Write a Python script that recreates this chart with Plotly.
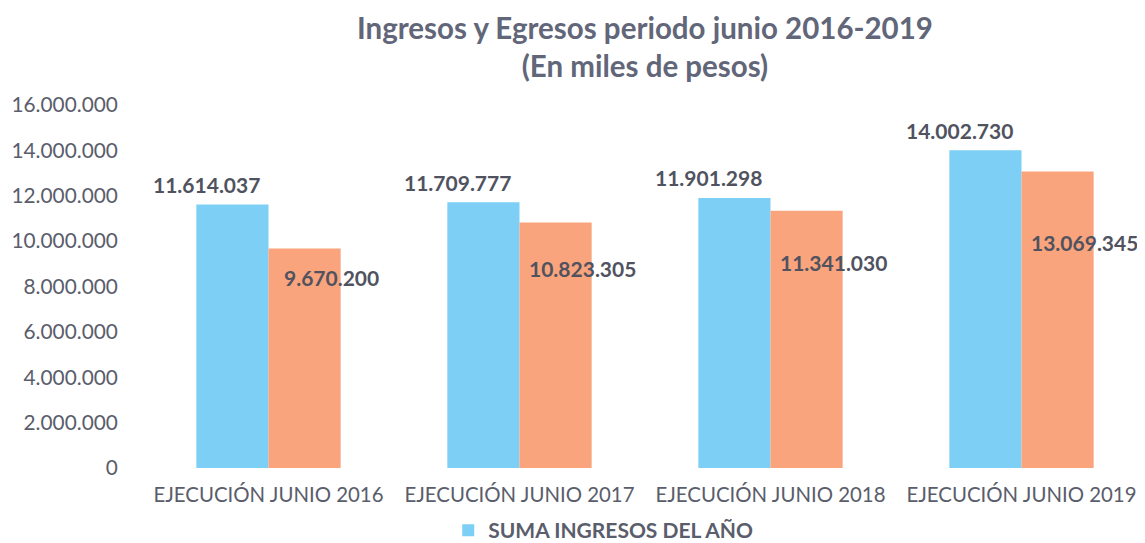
import plotly.graph_objects as go

categories = ["EJECUCIÓN JUNIO 2016", "EJECUCIÓN JUNIO 2017", "EJECUCIÓN JUNIO 2018", "EJECUCIÓN JUNIO 2019"]
ingresos = [11614037, 11709777, 11901298, 14002730]
egresos = [9670200, 10823305, 11341030, 13069345]
tick_vals = [0, 2000000, 4000000, 6000000, 8000000, 10000000, 12000000, 14000000, 16000000]
tick_text = ["0", "2.000.000", "4.000.000", "6.000.000", "8.000.000", "10.000.000", "12.000.000", "14.000.000", "16.000.000"]

# label pixel offsets (style only)
egresos_label_yshift = [-29, -46, -52, -71]

BLUE = "#7dcff5"
ORANGE = "#f9a47c"
TXT = "#5a5d6b"
LBL = "#50535f"
FONT = "Lato"


def fmt(v):
    return f"{v:,}".replace(",", ".")


fig = go.Figure()
fig.add_trace(go.Bar(x=categories, y=ingresos, name="SUMA INGRESOS DEL AÑO",
                     marker=dict(color=BLUE, line=dict(width=0))))
fig.add_trace(go.Bar(x=categories, y=egresos, name="SUMA EGRESOS DEL AÑO",
                     marker=dict(color=ORANGE, line=dict(width=0)), showlegend=False))

annotations = []
for i, c in enumerate(categories):
    annotations.append(dict(x=c, y=ingresos[i], xref="x", yref="y", text=fmt(ingresos[i]),
                            showarrow=False, xshift=-62, yshift=20, yanchor="middle",
                            font=dict(family=FONT, size=21, color=LBL, weight="bold")))
    annotations.append(dict(x=c, y=egresos[i], xref="x", yref="y", text=fmt(egresos[i]),
                            showarrow=False, xshift=63, yshift=egresos_label_yshift[i], yanchor="middle",
                            font=dict(family=FONT, size=21, color=LBL, weight="bold")))

annotations.append(dict(x=0.5, y=1, xref="paper", yref="paper", yanchor="middle", yshift=59,
                        text="<b>Ingresos y Egresos periodo junio 2016-2019<br>(En miles de pesos)</b>",
                        showarrow=False, font=dict(family=FONT, size=29.5, color="#626679")))
fig.update_layout(annotations=annotations)

fig.update_layout(
    width=1145, height=543,
    margin=dict(l=135, r=6, t=97, b=83, autoexpand=False),
    paper_bgcolor="white", plot_bgcolor="white",
    barmode="group", bargap=0.425, bargroupgap=0,
    font=dict(family=FONT, color=TXT),
    showlegend=True,
    legend=dict(orientation="h", x=0.304, xanchor="left", yref="container", y=0.0, yanchor="bottom",
                font=dict(family=FONT, size=21, color=TXT, weight="bold"),
                bgcolor="rgba(0,0,0,0)"),
)
fig.update_xaxes(showline=False, showgrid=False, ticks="outside", ticklen=9, tickcolor="rgba(0,0,0,0)",
                 automargin=False, tickfont=dict(family=FONT, size=20.4, color=TXT))
fig.update_yaxes(range=[0, 16000000], tickvals=tick_vals, ticktext=tick_text, showgrid=False,
                 zeroline=False, showline=False, ticks="outside", ticklen=20, tickcolor="rgba(0,0,0,0)",
                 automargin=False, tickfont=dict(family=FONT, size=20.8, color=TXT))

fig.write_html("out.html")
